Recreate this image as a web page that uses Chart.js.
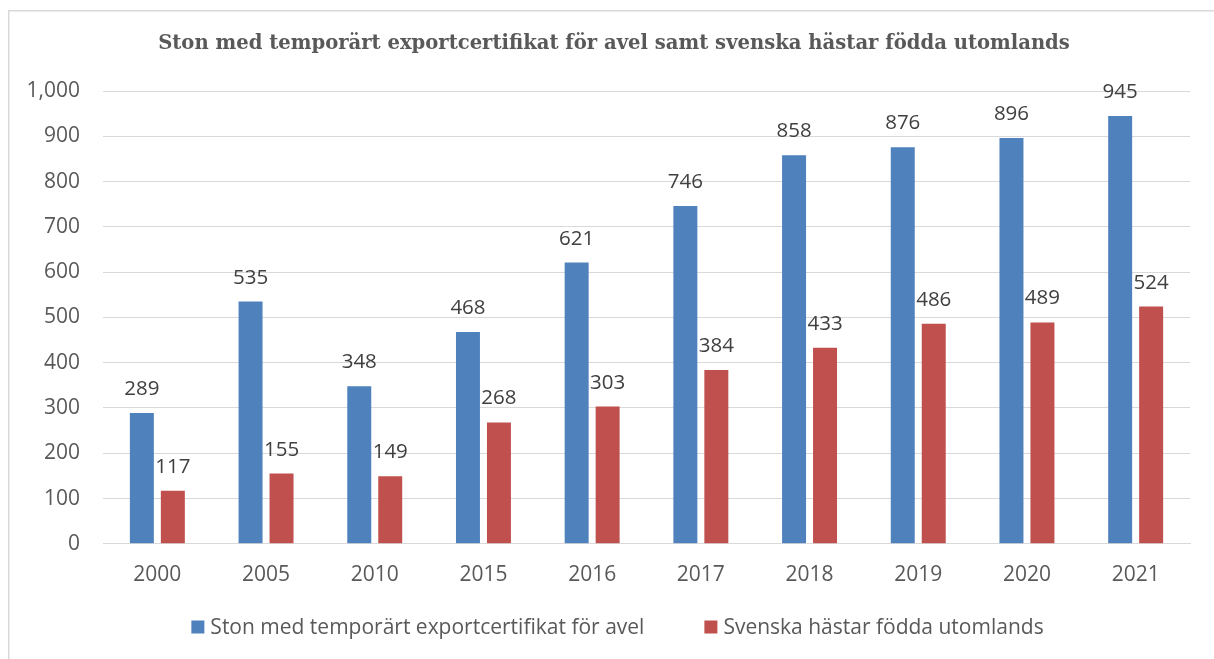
<!DOCTYPE html>
<html>
<head>
<meta charset="utf-8">
<script src="https://cdn.jsdelivr.net/npm/chart.js@4/dist/chart.umd.min.js"></script>
<style>
  html, body { margin: 0; padding: 0; background: #ffffff; }
  #wrap { width: 1214px; height: 659px; position: relative; }
</style>
</head>
<body>
<div id="wrap"><canvas id="c" width="1214" height="659"></canvas></div>
<script>
const categories = ["2000", "2005", "2010", "2015", "2016", "2017", "2018", "2019", "2020", "2021"];
const seriesNames = ["Ston med temporärt exportcertifikat för avel", "Svenska hästar födda utomlands"];
const exportCertValues = [289, 535, 348, 468, 621, 746, 858, 876, 896, 945];
const bornAbroadValues = [117, 155, 149, 268, 303, 384, 433, 486, 489, 524];
const yTicks = [0, 100, 200, 300, 400, 500, 600, 700, 800, 900, 1000];
const titleText = "Ston med temporärt exportcertifikat för avel samt svenska hästar födda utomlands";

const frame = {
  id: 'frame',
  beforeDraw(chart) {
    const ctx = chart.ctx;
    ctx.save();
    ctx.fillStyle = '#ffffff';
    ctx.fillRect(0, 0, chart.width, chart.height);
    ctx.strokeStyle = '#d9d9d9';
    ctx.lineWidth = 1.5;
    ctx.beginPath();
    ctx.moveTo(8.75, chart.height + 2);
    ctx.lineTo(8.75, 10.75);
    ctx.lineTo(chart.width + 2, 10.75);
    ctx.stroke();
    ctx.restore();
  }
};

const valueLabels = {
  id: 'valueLabels',
  afterDatasetsDraw(chart) {
    const ctx = chart.ctx;
    ctx.save();
    ctx.font = '20.5px "Open Sans"';
    ctx.fillStyle = '#404040';
    ctx.textAlign = 'center';
    ctx.textBaseline = 'alphabetic';
    chart.data.datasets.forEach((ds, i) => {
      const meta = chart.getDatasetMeta(i);
      meta.data.forEach((bar, j) => {
        ctx.fillText(String(ds.data[j]), bar.x, bar.y - 18);
      });
    });
    ctx.restore();
  }
};

const customLegend = {
  id: 'customLegend',
  afterDraw(chart) {
    const ctx = chart.ctx;
    ctx.save();
    ctx.font = '21px "Open Sans"';
    const box = 13, gapText = 6, gapItem = 60;
    const items = chart.data.datasets.map(ds => ({ text: ds.label, color: ds.backgroundColor, w: ctx.measureText(ds.label).width }));
    let total = 0;
    items.forEach((it, i) => { total += box + gapText + it.w + (i < items.length - 1 ? gapItem : 0); });
    let x = 617.5 - total / 2;
    const cy = 627;
    items.forEach(it => {
      ctx.fillStyle = it.color;
      ctx.fillRect(x, cy - 6.5, box, box);
      x += box + gapText;
      ctx.fillStyle = '#595959';
      ctx.textAlign = 'left';
      ctx.textBaseline = 'middle';
      ctx.fillText(it.text, x, cy + 1);
      x += it.w + gapItem;
    });
    ctx.restore();
  }
};

new Chart(document.getElementById('c'), {
  type: 'bar',
  data: {
    labels: categories,
    datasets: [
      { label: seriesNames[0], data: exportCertValues, backgroundColor: '#4f81bd',
        categoryPercentage: 0.57, barPercentage: 0.774 },
      { label: seriesNames[1], data: bornAbroadValues, backgroundColor: '#c0504d',
        categoryPercentage: 0.57, barPercentage: 0.774 }
    ]
  },
  options: {
    responsive: false,
    animation: false,
    devicePixelRatio: 1,
    layout: { padding: { left: 14, right: 0, top: 0, bottom: 52 } },
    scales: {
      x: {
        grid: { display: false, drawTicks: false },
        border: { display: true, color: '#d9d9d9', width: 1 },
        ticks: { color: '#595959', font: { family: 'Open Sans', size: 21 }, padding: 19 }
      },
      y: {
        min: 0, max: 1000,
        afterBuildTicks(scale) { scale.ticks = yTicks.map(v => ({ value: v })); },
        afterFit(scale) { scale.width = 89; },
        grid: { color: '#d9d9d9', lineWidth: 1, drawTicks: false },
        border: { display: false },
        ticks: {
          color: '#595959', font: { family: 'Open Sans', size: 21 }, padding: 23,
          callback: v => v.toLocaleString('en-US')
        }
      },
      yRightSpace: {
        position: 'right', display: true, min: 0, max: 1000,
        afterFit(scale) { scale.width = 24; },
        grid: { display: false, drawTicks: false },
        border: { display: false },
        ticks: { display: false }
      }
    },
    plugins: {
      title: {
        display: true, text: titleText, color: '#595959',
        font: { family: 'DejaVu Serif', size: 19.6, weight: 'bold' },
        padding: { top: 32, bottom: 35.5 }
      },
      legend: { display: false },
      tooltip: { enabled: false }
    }
  },
  plugins: [frame, valueLabels, customLegend]
});
</script>
</body>
</html>
